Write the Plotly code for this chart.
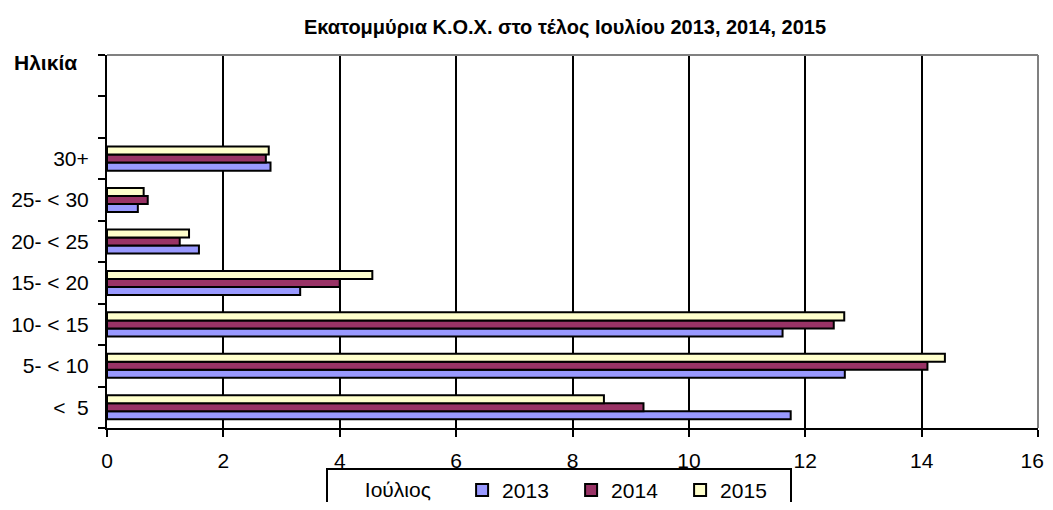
import plotly.graph_objects as go

categories = ["<\u00a0 5", "5- < 10", "10- < 15", "15- < 20", "20- < 25", "25- < 30", "30+"]
empty_slots = [" ", "  "]
years = ["2013", "2014", "2015"]
v2013 = [11.75, 12.68, 11.61, 3.32, 1.58, 0.53, 2.81]
v2014 = [9.22, 14.10, 12.49, 4.00, 1.25, 0.70, 2.73]
v2015 = [8.54, 14.40, 12.67, 4.56, 1.41, 0.63, 2.78]
colors = ["#9999FF", "#993366", "#FFFFCC"]
xticks = [0, 2, 4, 6, 8, 10, 12, 14, 16]
xticklabels = ["0", "2", "4", "6", "8", "10", "12", "14", "16\u00a0\u00a0"]

fig = go.Figure()
for name, vals, col in zip(years, [v2013, v2014, v2015], colors):
    fig.add_trace(go.Bar(
        y=categories, x=vals, name=name, orientation="h",
        marker=dict(color=col, line=dict(color="black", width=2)),
    ))

# the page body has an 8px margin on every side, so the figure is shifted by 8px
W, H = 1037, 494
font = "Liberation Sans, Arial, sans-serif"
nb = "\u00a0"
fig.update_layout(
    width=W, height=H,
    margin=dict(l=99, r=W - 1030, t=47, b=H - 420, autoexpand=False),
    paper_bgcolor="white", plot_bgcolor="white",
    barmode="group", bargap=0.42, bargroupgap=0,
    font=dict(family=font, size=21, color="black"),
    title=dict(text="<b>Εκατομμύρια Κ.Ο.Χ. στο τέλος Ιουλίου 2013, 2014, 2015</b>",
               x=557 / W, xref="container", xanchor="center",
               y=1 - 19 / H, yref="container", yanchor="middle",
               font=dict(size=20, family=font, color="black")),
    xaxis=dict(range=[0, 16], tickvals=xticks, ticktext=xticklabels,
               ticks="outside", ticklen=7,
               tickwidth=2, tickcolor="black",
               showgrid=True, gridcolor="black", gridwidth=2,
               showline=True, linecolor="black", linewidth=2,
               zeroline=False, ticklabelstandoff=6, automargin=False,
               ticklabeloverflow="allow",
               tickfont=dict(size=21)),
    yaxis=dict(type="category", categoryorder="array",
               categoryarray=categories + empty_slots,
               range=[-0.5, len(categories) + len(empty_slots) - 0.5],
               tickson="boundaries", ticks="outside", ticklen=7,
               tickwidth=2, tickcolor="black",
               showline=True, linecolor="black", linewidth=2,
               showgrid=False, ticklabelstandoff=12, automargin=False,
               tickfont=dict(size=21)),
    showlegend=True,
    legend=dict(orientation="h", x=0.235, xanchor="left",
                y=-0.107, yanchor="top",
                bordercolor="black", borderwidth=2,
                title=dict(text=nb * 6 + "Ιούλιος" + nb * 4, side="left", font=dict(size=21)),
                font=dict(size=21), entrywidth=64, traceorder="normal",
                itemwidth=30),
)

# grey plot-area border on top and right
fig.add_shape(type="line", xref="paper", yref="paper", x0=0, x1=1, y0=1, y1=1,
              line=dict(color="#808080", width=2))
fig.add_shape(type="line", xref="paper", yref="paper", x0=1, x1=1, y0=0, y1=1,
              line=dict(color="#808080", width=2))

fig.add_annotation(text="<b>Ηλικία</b>", xref="paper", yref="paper",
                   x=(12 - 107) / 931, xanchor="left", y=0.981, yanchor="middle",
                   showarrow=False, font=dict(size=21, family=font, color="black"))

fig.write_html("out.html")
